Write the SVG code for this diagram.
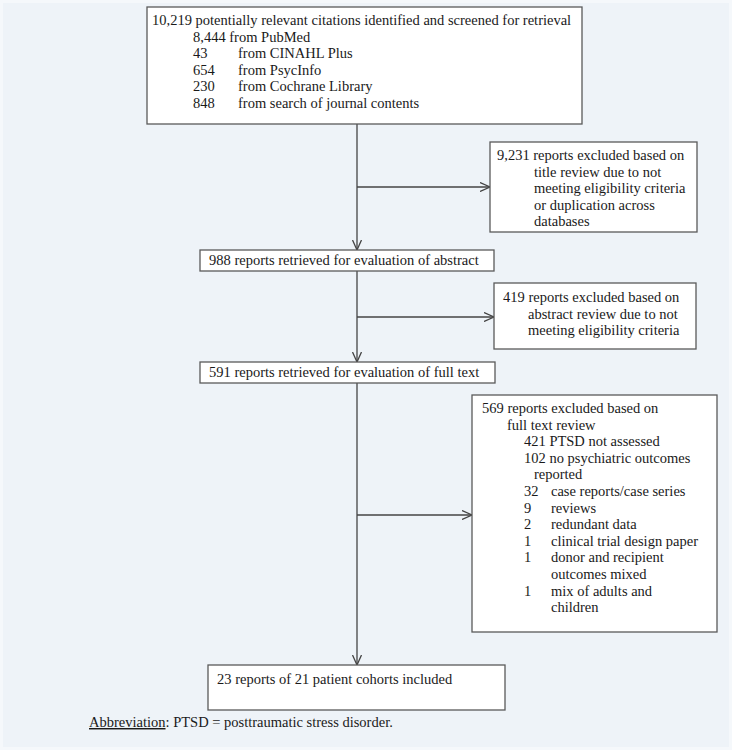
<svg xmlns="http://www.w3.org/2000/svg" width="732" height="750" viewBox="0 0 732 750">
<defs>
<marker id="arr" markerWidth="11" markerHeight="10" refX="10" refY="5" orient="auto" markerUnits="userSpaceOnUse">
<path d="M0,0.5 L10,5 L0,9.5" fill="none" stroke="#444" stroke-width="1.3"/>
</marker>
<style>
.box{fill:#fff;stroke:#5a5a5a;stroke-width:1.3}
.t{font-family:"Liberation Serif","Times New Roman",serif;font-size:14.5px;fill:#1a1a1a}
.c{fill:none;stroke:#444;stroke-width:1.3}
</style>
</defs>
<rect x="0" y="0" width="732" height="750" fill="#eef3f8"/>
<rect x="1.5" y="1.5" width="729" height="747" fill="none" stroke="#f5f8fb" stroke-width="3"/>

<g id="connectors">
<line class="c" x1="357" y1="124" x2="357" y2="250" marker-end="url(#arr)"/>
<line class="c" x1="357" y1="187" x2="490" y2="187" marker-end="url(#arr)"/>
<line class="c" x1="357" y1="271" x2="357" y2="362" marker-end="url(#arr)"/>
<line class="c" x1="357" y1="317" x2="494" y2="317" marker-end="url(#arr)"/>
<line class="c" x1="357" y1="383" x2="357" y2="665" marker-end="url(#arr)"/>
<line class="c" x1="357" y1="515" x2="472" y2="515" marker-end="url(#arr)"/>
</g>

<g id="n-identified">
<rect class="box" x="147" y="7" width="435" height="117"/>
<text class="t" x="152" y="25">10,219 potentially relevant citations identified and screened for retrieval</text>
<text class="t" x="193" y="41.6">8,444 from PubMed</text>
<text class="t" y="58.2"><tspan x="193">43</tspan><tspan x="238">from CINAHL Plus</tspan></text>
<text class="t" y="74.8"><tspan x="193">654</tspan><tspan x="238">from PsycInfo</tspan></text>
<text class="t" y="91.4"><tspan x="193">230</tspan><tspan x="238">from Cochrane Library</tspan></text>
<text class="t" y="108"><tspan x="193">848</tspan><tspan x="238">from search of journal contents</tspan></text>
</g>

<g id="n-excluded-title">
<rect class="box" x="490" y="142" width="207" height="90"/>
<text class="t" x="497" y="160">9,231 reports excluded based on</text>
<text class="t" x="534" y="176.6">title review due to not</text>
<text class="t" x="534" y="193.2">meeting eligibility criteria</text>
<text class="t" x="534" y="209.8">or duplication across</text>
<text class="t" x="534" y="226.4">databases</text>
</g>

<g id="n-abstract">
<rect class="box" x="200" y="250" width="294" height="21"/>
<text class="t" x="209" y="265">988 reports retrieved for evaluation of abstract</text>
</g>

<g id="n-excluded-abstract">
<rect class="box" x="494" y="283" width="202" height="66"/>
<text class="t" x="503" y="302">419 reports excluded based on</text>
<text class="t" x="528" y="318.6">abstract review due to not</text>
<text class="t" x="528" y="335.2">meeting eligibility criteria</text>
</g>

<g id="n-fulltext">
<rect class="box" x="200" y="362" width="295" height="21"/>
<text class="t" x="209" y="377">591 reports retrieved for evaluation of full text</text>
</g>

<g id="n-excluded-fulltext">
<rect class="box" x="472" y="395" width="245" height="237"/>
<text class="t" x="482" y="413">569 reports excluded based on</text>
<text class="t" x="507" y="429.6">full text review</text>
<text class="t" x="524" y="446.2">421 PTSD not assessed</text>
<text class="t" x="524" y="462.8">102 no psychiatric outcomes</text>
<text class="t" x="534" y="479.4">reported</text>
<text class="t" y="496"><tspan x="524">32</tspan><tspan x="551">case reports/case series</tspan></text>
<text class="t" y="512.6"><tspan x="524">9</tspan><tspan x="551">reviews</tspan></text>
<text class="t" y="529.2"><tspan x="524">2</tspan><tspan x="551">redundant data</tspan></text>
<text class="t" y="545.8"><tspan x="524">1</tspan><tspan x="551">clinical trial design paper</tspan></text>
<text class="t" y="562.4"><tspan x="524">1</tspan><tspan x="551">donor and recipient</tspan></text>
<text class="t" x="551" y="579">outcomes mixed</text>
<text class="t" y="595.6"><tspan x="524">1</tspan><tspan x="551">mix of adults and</tspan></text>
<text class="t" x="551" y="612.2">children</text>
</g>

<g id="n-included">
<rect class="box" x="208" y="665" width="297" height="45"/>
<text class="t" x="217" y="684">23 reports of 21 patient cohorts included</text>
</g>

<text class="t" x="89" y="727"><tspan text-decoration="underline">Abbreviation</tspan>: PTSD = posttraumatic stress disorder.</text>
</svg>
